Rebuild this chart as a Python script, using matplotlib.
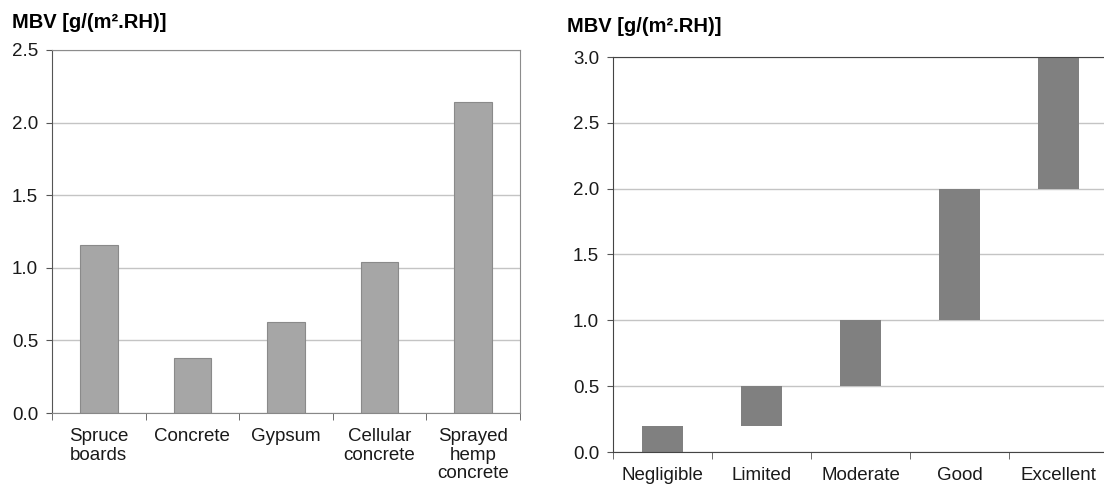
import matplotlib
matplotlib.use("Agg")
import matplotlib.pyplot as plt
import numpy as np

plt.rcParams["font.family"] = ["Liberation Sans", "DejaVu Sans"]

MATERIALS = ["Spruce\nboards", "Concrete", "Gypsum", "Cellular\nconcrete", "Sprayed\nhemp\nconcrete"]
MATERIAL_MBV = [1.16, 0.38, 0.63, 1.04, 2.14]

CLASSES = ["Negligible", "Limited", "Moderate", "Good", "Excellent"]
CLASS_LOW = [0.0, 0.2, 0.5, 1.0, 2.0]
CLASS_HIGH = [0.2, 0.5, 1.0, 2.0, 3.0]

LEFT_TICKS = [0.0, 0.5, 1.0, 1.5, 2.0, 2.5]
RIGHT_TICKS = [0.0, 0.5, 1.0, 1.5, 2.0, 2.5, 3.0]
YLABEL = "MBV [g/(m².RH)]"

W, H = 1104, 486
FS = 13.5
fig = plt.figure(figsize=(W / 100, H / 100), dpi=100)


def px_axes(x0, y0, x1, y1):
  # pixel box (top-left origin) -> figure fraction
  return fig.add_axes([x0 / W, 1 - y1 / H, (x1 - x0) / W, (y1 - y0) / H])


def style(ax, ticks, n):
  ax.set_axisbelow(True)
  ax.yaxis.grid(True, color="#c4c4c4", lw=1.0)
  ax.set_yticks(ticks)
  ax.set_yticklabels([f"{t:.1f}" for t in ticks], fontsize=FS, color="#1a1a1a")
  ax.set_xlim(-0.5, n - 0.5)
  ax.set_xticks(np.arange(n + 1) - 0.5, minor=True)
  ax.set_xticks(np.arange(n))
  ax.tick_params(axis="x", which="major", length=0, pad=11)
  ax.tick_params(axis="x", which="minor", length=5, color="#555555", direction="out")
  ax.tick_params(axis="y", length=4, color="#555555", pad=6)


# left chart: measured MBV per material
ax1 = px_axes(52, 50, 520, 413)
x = np.arange(len(MATERIALS))
ax1.bar(x, MATERIAL_MBV, width=0.4, color="#a6a6a6", edgecolor="#8a8a8a", lw=0.8)
style(ax1, LEFT_TICKS, len(MATERIALS))
ax1.set_ylim(0, 2.5)
ax1.set_xticklabels(MATERIALS, fontsize=FS, color="#1a1a1a", linespacing=1.12, va="top")
for s in ["top", "right"]:
  ax1.spines[s].set_color("#8c8c8c")
ax1.spines["left"].set_color("#555555")
ax1.spines["bottom"].set_color("#888888")
fig.text(12 / W, 1 - 22 / H, YLABEL, fontsize=14.5, fontweight="bold", va="center", ha="left")

# right chart: MBV classes as floating bars
ax2 = px_axes(613, 57, 1108, 452)
x2 = np.arange(len(CLASSES))
heights = np.array(CLASS_HIGH) - np.array(CLASS_LOW)
ax2.bar(x2, heights, bottom=CLASS_LOW, width=0.41, color="#808080", edgecolor="none")
style(ax2, RIGHT_TICKS, len(CLASSES))
ax2.set_ylim(0, 3.0)
ax2.set_xticklabels(CLASSES, fontsize=FS, color="#1a1a1a")
ax2.tick_params(axis="x", which="major", pad=10.5)
ax2.spines["right"].set_visible(False)
for s in ["top", "left", "bottom"]:
  ax2.spines[s].set_color("#444444")
fig.text(567 / W, 1 - 27 / H, YLABEL, fontsize=14.5, fontweight="bold", va="center", ha="left")

fig.savefig("out.png", dpi=100)
